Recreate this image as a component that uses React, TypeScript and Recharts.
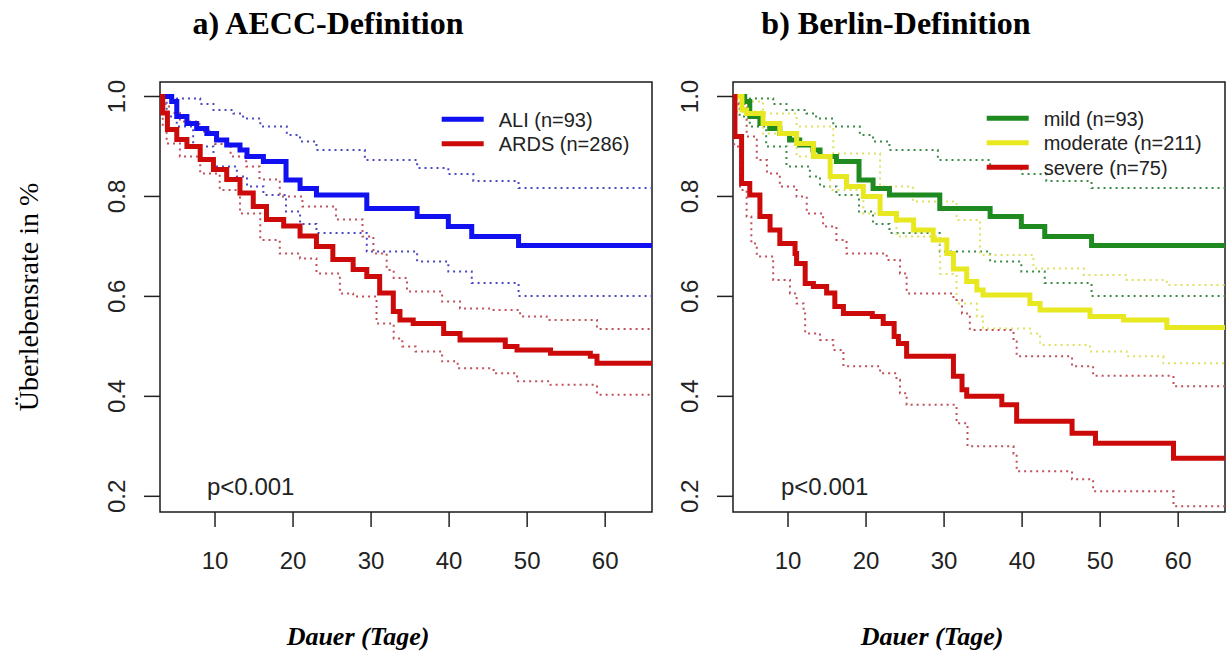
import React from "react";
import { LineChart, Line, XAxis, YAxis, ReferenceArea } from "recharts";

type Pt = [number, number];

const aliMain: Pt[] = [
  [2.95, 1], [4.45, 0.99], [5.1, 0.96], [6.4, 0.946], [7.65, 0.936], [8.95, 0.926],
  [10.2, 0.913], [11.5, 0.903], [13.2, 0.893], [14.1, 0.88], [16.2, 0.87], [19.1, 0.833],
  [20.9, 0.816], [23.0, 0.803], [29.45, 0.776], [35.9, 0.76], [39.9, 0.74], [42.9, 0.72],
  [48.9, 0.702], [66, 0.702],
];
const aliUpper: Pt[] = [
  [2.95, 1], [5.1, 0.996], [8.1, 0.985], [9.8, 0.973], [12.35, 0.966], [13.6, 0.956],
  [15.8, 0.94], [19.2, 0.923], [20.9, 0.91], [23.0, 0.893], [29.2, 0.873], [35.9, 0.857],
  [39.9, 0.845], [43.1, 0.831], [48.9, 0.817], [66, 0.817],
];
const aliLower: Pt[] = [
  [2.95, 1], [3.8, 0.96], [5.1, 0.94], [7.2, 0.9], [9.8, 0.86], [12.8, 0.84], [14.1, 0.82],
  [16.2, 0.803], [19.1, 0.77], [20.9, 0.745], [23.0, 0.727], [29.45, 0.69], [35.9, 0.67],
  [39.9, 0.65], [42.9, 0.627], [48.9, 0.601], [66, 0.601],
];

const ardsMain: Pt[] = [
  [2.95, 1], [3.3, 0.967], [3.9, 0.934], [5.1, 0.914], [6.4, 0.9], [8.1, 0.874], [9.8, 0.854],
  [11.5, 0.834], [13.2, 0.807], [14.9, 0.78], [16.6, 0.754], [18.8, 0.741], [20.9, 0.721],
  [23.0, 0.7], [25.1, 0.674], [27.7, 0.654], [29.45, 0.64], [31.1, 0.607], [32.85, 0.57],
  [33.7, 0.553], [35.4, 0.546], [39.3, 0.526], [41.4, 0.513], [47.2, 0.5], [48.7, 0.493],
  [53.0, 0.486], [58.1, 0.48], [58.95, 0.466], [66, 0.466],
];
const ardsUpper: Pt[] = [
  [2.95, 1], [3.4, 0.985], [4.1, 0.967], [5.5, 0.95], [8, 0.93], [10, 0.905], [12, 0.88],
  [14, 0.86], [15.7, 0.834], [18.3, 0.8], [21.2, 0.78], [25.5, 0.754], [28.9, 0.72],
  [30.3, 0.686], [32, 0.653], [32.9, 0.637], [34.6, 0.61], [39.1, 0.59], [41.4, 0.576],
  [45.7, 0.573], [49.1, 0.56], [52.5, 0.553], [58.95, 0.535], [66, 0.535],
];
const ardsLower: Pt[] = [
  [2.95, 1], [3.3, 0.94], [3.8, 0.906], [5.5, 0.88], [8.1, 0.846], [10.6, 0.813],
  [13.2, 0.766], [15.8, 0.713], [18.3, 0.686], [20.9, 0.676], [23.0, 0.646], [26.0, 0.606],
  [27.7, 0.6], [30.7, 0.546], [32.9, 0.516], [34.0, 0.5], [35.7, 0.49], [39.1, 0.47],
  [41.1, 0.456], [45.7, 0.446], [48.7, 0.43], [53.0, 0.423], [58.95, 0.403], [66, 0.403],
];

// mild (n=93) ist dieselbe Kohorte wie ALI (n=93)
const mildMain = aliMain;
const mildUpper = aliUpper;
const mildLower = aliLower;

const moderateMain: Pt[] = [
  [2.95, 1], [4.1, 0.973], [4.7, 0.966], [6.8, 0.946], [8.95, 0.926], [11.1, 0.906],
  [13.25, 0.88], [15.4, 0.84], [17.5, 0.82], [19.65, 0.8], [21.8, 0.766], [23.9, 0.753],
  [26.1, 0.733], [28.6, 0.713], [30.35, 0.686], [31.2, 0.655], [32.9, 0.63], [34.2, 0.613],
  [35.0, 0.603], [41.0, 0.586], [42.3, 0.573], [48.7, 0.56], [53.0, 0.553], [58.55, 0.538],
  [66, 0.538],
];
const moderateUpper: Pt[] = [
  [2.95, 1], [4.5, 0.99], [6.8, 0.966], [11.1, 0.94], [15.8, 0.886], [21.8, 0.82],
  [26, 0.79], [31.6, 0.753], [34.6, 0.683], [41.45, 0.656], [47.9, 0.643], [53.4, 0.633],
  [58.55, 0.623], [66, 0.623],
];
const moderateLower: Pt[] = [
  [2.95, 1], [3.5, 0.97], [6.8, 0.926], [11.1, 0.88], [15.4, 0.813], [19.65, 0.766],
  [23.9, 0.72], [29.5, 0.645], [31.6, 0.586], [34.2, 0.56], [35.0, 0.536], [41.0, 0.526],
  [42.3, 0.503], [48.7, 0.49], [53.4, 0.48], [58.1, 0.466], [66, 0.466],
];

const severeMain: Pt[] = [
  [2.95, 1], [3.2, 0.92], [4.05, 0.826], [5.1, 0.803], [6.4, 0.76], [7.7, 0.733],
  [8.95, 0.706], [10.9, 0.686], [11.1, 0.666], [12.2, 0.626], [13.25, 0.62], [14.95, 0.607],
  [16.0, 0.58], [17.1, 0.566], [20.8, 0.56], [22.2, 0.546], [23.6, 0.52], [24.15, 0.506],
  [25.2, 0.48], [31.2, 0.44], [32.3, 0.413], [32.9, 0.4], [37.4, 0.383], [39.3, 0.35],
  [46.4, 0.326], [49.4, 0.306], [59.4, 0.276], [66, 0.276],
];
const severeUpper: Pt[] = [
  [2.95, 1], [3.2, 0.985], [4.7, 0.92], [6.0, 0.873], [7.3, 0.846], [8.95, 0.82],
  [11.1, 0.8], [12.4, 0.766], [14.5, 0.74], [16.2, 0.713], [17.5, 0.686], [22.65, 0.673],
  [24.35, 0.646], [25.2, 0.606], [31.2, 0.593], [32.3, 0.566], [33.3, 0.533], [38.9, 0.51],
  [39.3, 0.48], [46.4, 0.46], [49.1, 0.441], [59.4, 0.42], [66, 0.42],
];
const severeLower: Pt[] = [
  [2.95, 1], [3.1, 0.9], [3.85, 0.813], [4.7, 0.76], [5.3, 0.706], [6.0, 0.68],
  [8.1, 0.633], [10.25, 0.606], [11.1, 0.586], [12.0, 0.566], [12.2, 0.526], [14.1, 0.513],
  [15.8, 0.493], [17.1, 0.46], [21.8, 0.446], [23.9, 0.433], [24.35, 0.406], [25.2, 0.383],
  [31.6, 0.346], [33.0, 0.3], [38.9, 0.285], [39.3, 0.25], [46.4, 0.234], [49.1, 0.21],
  [59.4, 0.18], [66, 0.18],
];

const xTicks = [10, 20, 30, 40, 50, 60];
const yTicks = [0.2, 0.4, 0.6, 0.8, 1.0];
const leftLegend = ["ALI (n=93)", "ARDS (n=286)"];
const rightLegend = ["mild (n=93)", "moderate (n=211)", "severe (n=75)"];

const X_DOMAIN: [number, number] = [2.95, 66];
const Y_DOMAIN: [number, number] = [0.1686, 1.029];

const BLUE = "#1010f0";
const RED = "#cc0a0a";
const GREEN = "#1f8a1f";
const YELLOW = "#e8e820";
const BLUE_DOT = "#4a4ac0";
const RED_DOT = "#c0505a";
const GREEN_DOT = "#3a8a48";
const YELLOW_DOT = "#e0e060";

const SANS = "'Liberation Sans', Arial, Helvetica, sans-serif";
const SERIF = "'Liberation Serif', 'Times New Roman', serif";

interface Series {
  id: string;
  pts: Pt[];
  color: string;
  dotted?: boolean;
}

const toRows = (pts: Pt[]) => pts.map(([t, s]) => ({ t, s }));

const XTick = (props: any) => (
  <text x={props.x} y={props.y + 40} textAnchor="middle" fontSize={24} fontFamily={SANS} fill="#222">
    {props.payload.value}
  </text>
);

const YTick = (props: any) => {
  const bx = props.x - 17;
  return (
    <text
      x={bx}
      y={props.y}
      transform={`rotate(-90, ${bx}, ${props.y})`}
      textAnchor="middle"
      fontSize={24}
      fontFamily={SANS}
      fill="#222"
    >
      {Number(props.payload.value).toFixed(1)}
    </text>
  );
};

function Panel({
  left,
  width,
  yAxisWidth,
  rightMargin,
  series,
}: {
  left: number;
  width: number;
  yAxisWidth: number;
  rightMargin: number;
  series: Series[];
}) {
  return (
    <div style={{ position: "absolute", left, top: 0, width, height: 600 }}>
      <LineChart width={width} height={600} margin={{ top: 82, right: rightMargin, bottom: 0, left: 0 }}>
        <XAxis
          dataKey="t"
          type="number"
          domain={X_DOMAIN}
          allowDataOverflow
          ticks={xTicks}
          height={88}
          tickSize={15}
          axisLine={false}
          tickLine={{ stroke: "#222", strokeWidth: 1.5 }}
          tick={<XTick />}
        />
        <YAxis
          type="number"
          domain={Y_DOMAIN}
          allowDataOverflow
          ticks={yTicks}
          width={yAxisWidth}
          tickSize={16}
          axisLine={false}
          tickLine={{ stroke: "#222", strokeWidth: 1.5 }}
          tick={<YTick />}
        />
        {series.map((s) => (
          <Line
            key={s.id}
            data={toRows(s.pts)}
            dataKey="s"
            type="stepAfter"
            stroke={s.color}
            strokeWidth={s.dotted ? 2 : 5}
            strokeDasharray={s.dotted ? "2 4" : undefined}
            dot={false}
            activeDot={false}
            isAnimationActive={false}
          />
        ))}
        <ReferenceArea
          x1={X_DOMAIN[0]}
          x2={X_DOMAIN[1]}
          y1={Y_DOMAIN[0]}
          y2={Y_DOMAIN[1]}
          fill="none"
          stroke="#1a1a1a"
          strokeWidth={1.5}
        />
      </LineChart>
    </div>
  );
}

const leftSeries: Series[] = [
  { id: "aliLo", pts: aliLower, color: BLUE_DOT, dotted: true },
  { id: "aliHi", pts: aliUpper, color: BLUE_DOT, dotted: true },
  { id: "ardsLo", pts: ardsLower, color: RED_DOT, dotted: true },
  { id: "ardsHi", pts: ardsUpper, color: RED_DOT, dotted: true },
  { id: "ali", pts: aliMain, color: BLUE },
  { id: "ards", pts: ardsMain, color: RED },
];

const rightSeries: Series[] = [
  { id: "mildLo", pts: mildLower, color: GREEN_DOT, dotted: true },
  { id: "mildHi", pts: mildUpper, color: GREEN_DOT, dotted: true },
  { id: "modLo", pts: moderateLower, color: YELLOW_DOT, dotted: true },
  { id: "modHi", pts: moderateUpper, color: YELLOW_DOT, dotted: true },
  { id: "sevLo", pts: severeLower, color: RED_DOT, dotted: true },
  { id: "sevHi", pts: severeUpper, color: RED_DOT, dotted: true },
  { id: "mild", pts: mildMain, color: GREEN },
  { id: "mod", pts: moderateMain, color: YELLOW },
  { id: "sev", pts: severeMain, color: RED },
];

function Legend({ x, y, labels, colors }: { x: number; y: number; labels: string[]; colors: string[] }) {
  return (
    <g>
      {labels.map((l, i) => (
        <g key={l}>
          <line x1={x} x2={x + 42} y1={y + i * 24.5} y2={y + i * 24.5} stroke={colors[i]} strokeWidth={5} />
          <text x={x + 57} y={y + i * 24.5 + 7.3} fontSize={20} fontFamily={SANS} fill="#222">
            {l}
          </text>
        </g>
      ))}
    </g>
  );
}

export default function App() {
  return (
    <div style={{ position: "absolute", left: 0, top: 0, width: 1226, height: 653, background: "#fff" }}>
      <Panel left={0} width={660} yAxisWidth={160} rightMargin={8} series={leftSeries} />
      <Panel left={660} width={566} yAxisWidth={73} rightMargin={1} series={rightSeries} />
      <svg
        width={1226}
        height={653}
        style={{ position: "absolute", left: 0, top: 0, pointerEvents: "none" }}
      >
        <text x={328} y={34} textAnchor="middle" fontSize={32} fontWeight="bold" fontFamily={SERIF} fill="#000">
          a) AECC-Definition
        </text>
        <text x={896} y={34} textAnchor="middle" fontSize={32} fontWeight="bold" fontFamily={SERIF} fill="#000">
          b) Berlin-Definition
        </text>
        <text
          x={38}
          y={297}
          transform="rotate(-90, 38, 297)"
          textAnchor="middle"
          fontSize={28}
          fontFamily={SERIF}
          fill="#000"
        >
          Überlebensrate in %
        </text>
        <text x={358} y={645} textAnchor="middle" fontSize={26} fontWeight="bold" fontStyle="italic" fontFamily={SERIF} fill="#000">
          Dauer (Tage)
        </text>
        <text x={932} y={645} textAnchor="middle" fontSize={26} fontWeight="bold" fontStyle="italic" fontFamily={SERIF} fill="#000">
          Dauer (Tage)
        </text>
        <text x={207} y={495} fontSize={24} fontFamily={SANS} fill="#222">
          p&lt;0.001
        </text>
        <text x={781} y={495} fontSize={24} fontFamily={SANS} fill="#222">
          p&lt;0.001
        </text>
        <Legend x={441.7} y={119.3} labels={leftLegend} colors={[BLUE, RED]} />
        <Legend x={986.7} y={118.3} labels={rightLegend} colors={[GREEN, YELLOW, RED]} />
      </svg>
    </div>
  );
}
